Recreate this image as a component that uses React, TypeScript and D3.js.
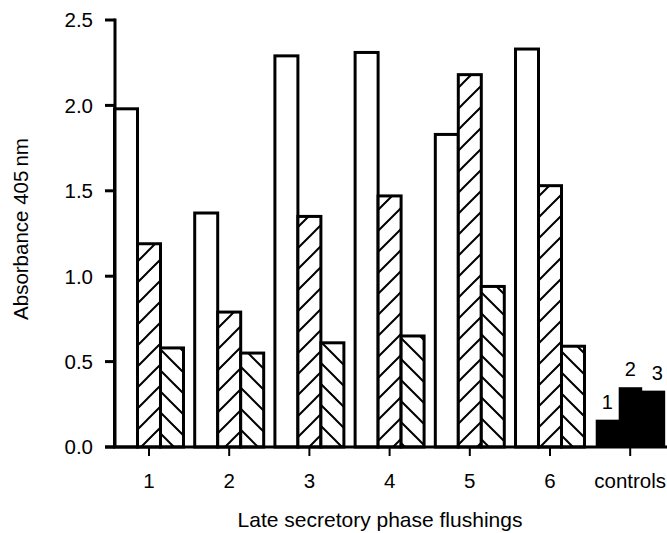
import { useEffect, useRef } from 'react';
import * as d3 from 'd3';

// categories along the x axis
const categories = ['1', '2', '3', '4', '5', '6', 'controls'];
// flushing samples: three bars per category (open, right hatch, left hatch)
const openBars = [1.98, 1.37, 2.29, 2.31, 1.83, 2.33];
const hatchUp = [1.19, 0.79, 1.35, 1.47, 2.18, 1.53];
const hatchDown = [0.58, 0.55, 0.61, 0.65, 0.94, 0.59];
// controls (black)
const controlValues = [0.16, 0.35, 0.33];
const controlLabels = ['1', '2', '3'];
const yTicks = [0, 0.5, 1.0, 1.5, 2.0, 2.5];

const FONT = '"Liberation Sans", Arial, Helvetica, sans-serif';

export default function App() {
  const ref = useRef<SVGSVGElement>(null);

  useEffect(() => {
    const width = 667;
    const height = 533;
    const svg = d3.select(ref.current).attr('width', width).attr('height', height);
    svg.selectAll('*').remove();

    const x = d3.scaleBand<string>()
      .domain(categories)
      .range([108.9, 670.3])
      .paddingInner(0.14)
      .paddingOuter(0.07);
    const y = d3.scaleLinear().domain([0, 2.5]).range([447, 20]);
    const bw = x.bandwidth() / 3;

    // hatch patterns
    const defs = svg.append('defs');
    const w = 21;
    defs.append('pattern')
      .attr('id', 'hatchUp')
      .attr('patternUnits', 'userSpaceOnUse')
      .attr('width', w).attr('height', w)
      .append('path')
      .attr('d', `M-2,2 l4,-4 M0,${w} l${w},${-w} M${w - 2},${w + 2} l4,-4`)
      .attr('stroke', '#000').attr('stroke-width', 2);
    defs.append('pattern')
      .attr('id', 'hatchDown')
      .attr('patternUnits', 'userSpaceOnUse')
      .attr('width', w).attr('height', w)
      .append('path')
      .attr('d', `M-2,${w - 2} l4,4 M0,0 l${w},${w} M${w - 2},-2 l4,4`)
      .attr('stroke', '#000').attr('stroke-width', 2);

    const series = [
      { values: openBars, fill: '#fff' },
      { values: hatchUp, fill: 'url(#hatchUp)' },
      { values: hatchDown, fill: 'url(#hatchDown)' },
    ];

    const g = svg.append('g');

    series.forEach((s, si) => {
      g.selectAll(`.bar-${si}`)
        .data(s.values)
        .join('rect')
        .attr('class', `bar-${si}`)
        .attr('x', (d, i) => (x(categories[i]) as number) + si * bw)
        .attr('y', d => y(d))
        .attr('width', bw)
        .attr('height', d => y(0) - y(d))
        .attr('fill', '#fff');
      g.selectAll(`.barf-${si}`)
        .data(s.values)
        .join('rect')
        .attr('class', `barf-${si}`)
        .attr('x', (d, i) => (x(categories[i]) as number) + si * bw)
        .attr('y', d => y(d))
        .attr('width', bw)
        .attr('height', d => y(0) - y(d))
        .attr('fill', s.fill)
        .attr('stroke', '#000')
        .attr('stroke-width', 3);
    });

    // controls
    const cx0 = x('controls') as number;
    g.selectAll('.ctrl')
      .data(controlValues)
      .join('rect')
      .attr('class', 'ctrl')
      .attr('x', (d, i) => cx0 + i * bw)
      .attr('y', d => y(d))
      .attr('width', bw + 0.5)
      .attr('height', d => y(0) - y(d))
      .attr('fill', '#000');

    g.selectAll('.ctrl-label')
      .data(controlValues)
      .join('text')
      .attr('class', 'ctrl-label')
      .attr('x', (d, i) => cx0 + i * bw + bw / 2 + (i === 2 ? 4 : 0))
      .attr('y', d => y(d) - 11)
      .attr('text-anchor', 'middle')
      .attr('font-family', FONT)
      .attr('font-size', 20)
      .text((d, i) => controlLabels[i]);

    // y axis
    svg.append('line')
      .attr('x1', 115).attr('x2', 115)
      .attr('y1', y(2.5) - 1.5).attr('y2', y(0))
      .attr('stroke', '#000').attr('stroke-width', 3);
    svg.selectAll('.ytick')
      .data(yTicks)
      .join('line')
      .attr('class', 'ytick')
      .attr('x1', 105).attr('x2', 115)
      .attr('y1', d => y(d)).attr('y2', d => y(d))
      .attr('stroke', '#000').attr('stroke-width', 3);
    svg.selectAll('.ylab')
      .data(yTicks)
      .join('text')
      .attr('class', 'ylab')
      .attr('x', 93)
      .attr('y', d => y(d))
      .attr('dy', '0.36em')
      .attr('text-anchor', 'end')
      .attr('font-family', FONT)
      .attr('font-size', 20.5)
      .text(d => d3.format('.1f')(d));

    // x axis
    svg.append('line')
      .attr('x1', 105).attr('x2', 667)
      .attr('y1', y(0)).attr('y2', y(0))
      .attr('stroke', '#000').attr('stroke-width', 3);
    svg.selectAll('.xtick')
      .data(categories)
      .join('line')
      .attr('class', 'xtick')
      .attr('x1', d => (x(d) as number) + x.bandwidth() / 2)
      .attr('x2', d => (x(d) as number) + x.bandwidth() / 2)
      .attr('y1', y(0)).attr('y2', y(0) + 9)
      .attr('stroke', '#000').attr('stroke-width', 2);
    svg.selectAll('.xlab')
      .data(categories)
      .join('text')
      .attr('class', 'xlab')
      .attr('x', d => (x(d) as number) + x.bandwidth() / 2)
      .attr('y', 488)
      .attr('text-anchor', 'middle')
      .attr('font-family', FONT)
      .attr('font-size', 20.5)
      .text(d => d);

    // axis titles
    svg.append('text')
      .attr('x', 380)
      .attr('y', 527)
      .attr('text-anchor', 'middle')
      .attr('font-family', FONT)
      .attr('font-size', 21)
      .text('Late secretory phase flushings');
    svg.append('text')
      .attr('transform', 'translate(28, 229) rotate(-90)')
      .attr('text-anchor', 'middle')
      .attr('font-family', FONT)
      .attr('font-size', 20.5)
      .text('Absorbance 405\u2009nm');
  }, []);

  return (
    <svg ref={ref} style={{ position: 'absolute', left: 0, top: 0, background: '#fff' }} />
  );
}
